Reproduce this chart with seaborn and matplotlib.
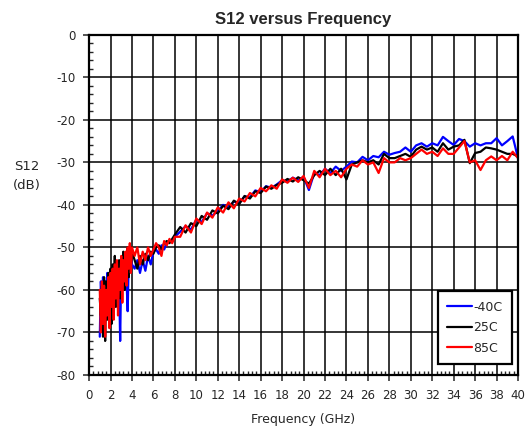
import numpy as np
import pandas as pd
import matplotlib
matplotlib.use("Agg")
import matplotlib.pyplot as plt
import seaborn as sns
from matplotlib.ticker import MultipleLocator

sns.set_style('white')
plt.rcParams['font.family'] = ['DejaVu Sans']
plt.rcParams['axes.unicode_minus'] = False

# frequency sweep (GHz): dense at the noisy low end
freq_low = [1.0, 1.1, 1.2, 1.3, 1.4, 1.5, 1.6, 1.7, 1.8, 1.9, 2.0, 2.1, 2.2, 2.3, 2.4, 2.5,
            2.6, 2.7, 2.8, 2.9, 3.0, 3.1, 3.2, 3.3, 3.4, 3.5, 3.6, 3.7, 3.8, 3.9, 4.0]
freq_mid = [4.25, 4.5, 4.75, 5.0, 5.25, 5.5, 5.75, 6.0, 6.25, 6.5, 6.75, 7.0, 7.25, 7.5, 7.75, 8.0]
freq_high = [8.5, 9, 9.5, 10, 10.5, 11, 11.5, 12, 12.5, 13, 13.5, 14, 14.5, 15, 15.5, 16,
             16.5, 17, 17.5, 18, 18.5, 19, 19.5, 20, 20.5, 21, 21.5, 22, 22.5, 23, 23.5, 24,
             24.5, 25, 25.5, 26, 26.5, 27, 27.5, 28, 28.5, 29, 29.5, 30, 30.5, 31, 31.5, 32,
             32.5, 33, 33.5, 34, 34.5, 35, 35.5, 36, 36.5, 37, 37.5, 38, 38.5, 39, 39.5, 40]
freq = freq_low + freq_mid + freq_high

s12_m40 = [-71, -58, -64, -57, -66, -58, -63, -56, -65, -57, -62, -55, -63, -56, -60, -54,
           -61, -55, -58, -72, -55, -59, -53, -57, -52, -58, -65, -53, -55, -52, -54,
           -55, -53, -56, -53, -55.5, -52, -54, -51, -50.5, -51.5, -49.5, -50.5, -49, -48.5, -48.5, -47.5,
           -46.3, -45, -45.8, -43.5, -44, -42, -42.5, -41.5, -40, -40.6, -39.2, -39.6, -38, -38.2, -36.6, -37,
           -35.6, -36, -35.2, -34.2, -34.5, -33.6, -34.2, -33.4, -36.5, -32.5, -33, -31.5, -32.5, -31, -32, -31,
           -29.8, -30, -28.7, -29.5, -28.5, -28.8, -27.5, -28.2, -27.8, -27.5, -26.5, -27.5, -26, -25.5, -26.3, -25.5,
           -26, -24, -25, -25.9, -24.5, -25, -26.3, -25.5, -26, -25.5, -25.5, -24.3, -26, -25, -23.9, -29]

s12_25 = [-62, -66, -59, -71, -57, -72, -58, -67, -56, -63, -55, -68, -54, -61, -52, -64,
          -54, -59, -53, -62, -54, -58, -51, -60, -52, -56, -50, -57, -51, -54, -51,
          -53, -55, -52, -54, -51.5, -53, -51, -51.5, -50, -49.5, -50.5, -49, -48.5, -49, -48, -47,
          -45.2, -46.5, -44.3, -45, -42.6, -43.5, -41.3, -42, -40.2, -41, -39, -39.8, -37.9, -38.5, -36.8, -37.2,
          -35.7, -36.2, -35.3, -34.8, -33.9, -34.5, -33.5, -34.2, -35, -33, -32, -33, -31.5, -33, -31.5, -34,
          -30.5, -30, -29.5, -30, -29.5, -30.5, -28, -29, -29, -28.5, -28, -28.7, -27, -26.3, -27, -26.5,
          -27.5, -25.5, -27, -26.3, -26, -24.7, -30.2, -27.8, -27.5, -26.5, -26.7, -27, -27.5, -28, -28, -28.6]

s12_85 = [-60, -70, -58, -68, -59, -71, -60, -66, -57, -69, -56, -64, -55, -67, -54, -62,
          -53, -66, -55, -60, -52, -63, -53, -58, -51, -59, -50, -55, -49, -56, -50,
          -52, -50, -54, -51, -53, -50, -52, -50.5, -49, -50, -52, -48.5, -49.5, -48, -49, -47.5,
          -47.5, -44.8, -46.5, -43.2, -44.5, -41.8, -43, -40.6, -41.8, -39.4, -40.8, -38.5, -39.2, -37.2, -38, -36,
          -36.8, -35.4, -36.2, -34, -34.8, -33.6, -34.6, -33.2, -36, -32, -33.5, -31.5, -33, -32, -33.5, -31.5,
          -30.5, -31, -29.5, -30.5, -30, -32.5, -29, -30, -30, -29, -29.5, -29, -28, -27, -28, -27.5,
          -28.5, -26.7, -28, -28, -26.5, -25, -30, -29.5, -31.8, -29.5, -28.6, -29.5, -28.5, -29.5, -27.5, -29]

temps = ['-40C', '25C', '85C']
colors = ['#0000ff', '#000000', '#ff0000']

df = pd.DataFrame({
    'Frequency': freq * 3,
    'S12': s12_m40 + s12_25 + s12_85,
    'Temp': [temps[0]] * len(freq) + [temps[1]] * len(freq) + [temps[2]] * len(freq),
})

fig = plt.figure(figsize=(5.27, 4.30), dpi=100)
ax = fig.add_axes([0.169, 0.128, 0.814, 0.791])

sns.lineplot(data=df, x='Frequency', y='S12', hue='Temp', hue_order=temps,
             palette=colors, estimator=None, sort=False, linewidth=1.6, ax=ax)

ax.set_xlim(0, 40)
ax.set_ylim(-80, 0)
ax.xaxis.set_major_locator(MultipleLocator(2))
ax.xaxis.set_minor_locator(MultipleLocator(0.4))
ax.yaxis.set_major_locator(MultipleLocator(10))
ax.yaxis.set_minor_locator(MultipleLocator(2))
ax.grid(True, which='major', color='black', linewidth=1.1)
ax.set_axisbelow(True)
ax.tick_params(which='major', direction='out', length=4, width=1.1, labelsize=8.5,
               bottom=True, left=True, pad=6)
ax.tick_params(which='minor', direction='in', length=3, width=1, bottom=True, left=True)
for sp in ax.spines.values():
    sp.set_color('black')
    sp.set_linewidth(1.6)

ax.set_title('S12 versus Frequency', fontsize=12, fontweight='bold',
             family=['Liberation Sans', 'DejaVu Sans'], pad=8)
ax.set_xlabel('Frequency (GHz)', fontsize=9, labelpad=8)
ax.set_ylabel('S12\n(dB)', fontsize=9.5, rotation=0, va='center', linespacing=1.6)
ax.yaxis.set_label_coords(-0.145, 0.585)

leg = ax.legend(loc='lower right', bbox_to_anchor=(0.986, 0.032), borderaxespad=0,
                fontsize=9, handlelength=2.0, handletextpad=0.1, labelspacing=0.6,
                borderpad=0.75, frameon=True, fancybox=False)
leg.get_frame().set_edgecolor('black')
leg.get_frame().set_linewidth(1.6)
leg.get_frame().set_alpha(1)

fig.savefig('out.png', dpi=100)
